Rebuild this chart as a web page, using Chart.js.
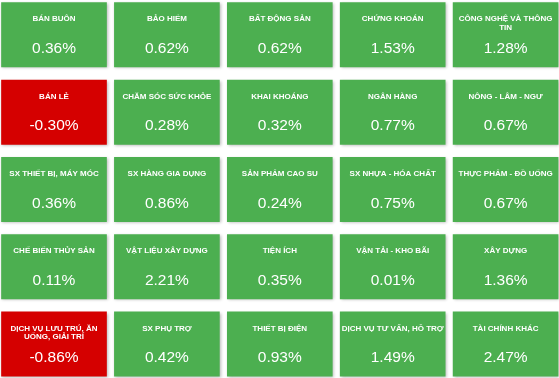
<!DOCTYPE html>
<html>
<head>
<meta charset="utf-8">
<script src="https://cdn.jsdelivr.net/npm/chart.js@4"></script>
<style>
  html, body { margin: 0; padding: 0; background: #ffffff; }
  #wrap { width: 559px; height: 378px; position: relative; }
</style>
</head>
<body>
<div id="wrap"><canvas id="c"></canvas></div>
<script>
const sectors = [
  "BÁN BUÔN", "BẢO HIỂM", "BẤT ĐỘNG SẢN", "CHỨNG KHOÁN", "CÔNG NGHỆ VÀ THÔNG TIN",
  "BÁN LẺ", "CHĂM SÓC SỨC KHỎE", "KHAI KHOÁNG", "NGÂN HÀNG", "NÔNG - LÂM - NGƯ",
  "SX THIẾT BỊ, MÁY MÓC", "SX HÀNG GIA DỤNG", "SẢN PHẨM CAO SU", "SX NHỰA - HÓA CHẤT", "THỰC PHẨM - ĐỒ UỐNG",
  "CHẾ BIẾN THỦY SẢN", "VẬT LIỆU XÂY DỰNG", "TIỆN ÍCH", "VẬN TẢI - KHO BÃI", "XÂY DỰNG",
  "DỊCH VỤ LƯU TRÚ, ĂN UỐNG, GIẢI TRÍ", "SX PHỤ TRỢ", "THIẾT BỊ ĐIỆN", "DỊCH VỤ TƯ VẤN, HỖ TRỢ", "TÀI CHÍNH KHÁC"
];
const changes = [
  0.36, 0.62, 0.62, 1.53, 1.28,
  -0.30, 0.28, 0.32, 0.77, 0.67,
  0.36, 0.86, 0.24, 0.75, 0.67,
  0.11, 2.21, 0.35, 0.01, 1.36,
  -0.86, 0.42, 0.93, 1.49, 2.47
];
const COLS = 5;

const GREEN = '#4caf50';
const RED = '#d50000';

// layout of the grid (pixel geometry expressed as scale ranges)
const colPitch = 112.9, firstColCenter = 54, tileW = 105;
const rowPitch = 77.3, firstRowTop = 2.7, tileH = 64.3;
const W = 559, H = 378;

const points = changes.map((v, i) => {
  const col = i % COLS, row = Math.floor(i / COLS);
  return { x: col, y: [row, row + tileH / rowPitch] };
});

const tileText = {
  id: 'tileText',
  beforeDatasetDraw(chart) {
    const ctx = chart.ctx;
    ctx.shadowColor = 'rgba(0,0,0,0.28)';
    ctx.shadowBlur = 3;
    ctx.shadowOffsetX = 1;
    ctx.shadowOffsetY = 1;
  },
  afterDatasetDraw(chart) {
    const ctx = chart.ctx;
    ctx.shadowColor = 'rgba(0,0,0,0)';
    ctx.shadowBlur = 0;
    ctx.shadowOffsetX = 0;
    ctx.shadowOffsetY = 0;
  },
  afterDatasetsDraw(chart) {
    const ctx = chart.ctx;
    const meta = chart.getDatasetMeta(0);
    ctx.save();
    ctx.fillStyle = '#ffffff';
    ctx.textAlign = 'center';
    ctx.textBaseline = 'middle';
    meta.data.forEach((el, i) => {
      const p = el.getProps(['x', 'y', 'base', 'width'], true);
      const top = Math.min(p.y, p.base);
      const maxW = p.width - 1;
      ctx.font = 'bold 8px "Liberation Sans", Arial, sans-serif';
      const words = sectors[i].split(' ');
      const lines = [];
      let cur = '';
      words.forEach(w => {
        const t = cur ? cur + ' ' + w : w;
        if (ctx.measureText(t).width > maxW && cur) { lines.push(cur); cur = w; }
        else cur = t;
      });
      if (cur) lines.push(cur);
      lines.forEach((ln, k) => ctx.fillText(ln, p.x, top + 16.5 + k * 8.5));
      ctx.font = '15.5px "Liberation Sans", Arial, sans-serif';
      ctx.fillText(changes[i].toFixed(2) + '%', p.x, top + 46);
    });
    ctx.restore();
  }
};

new Chart(document.getElementById('c'), {
  type: 'bar',
  data: {
    datasets: [{
      data: points,
      backgroundColor: changes.map(v => v < 0 ? RED : GREEN),
      borderWidth: 0,
      borderSkipped: false,
      barThickness: tileW
    }]
  },
  options: {
    responsive: true,
    maintainAspectRatio: false,
    animation: false,
    layout: { padding: 0 },
    plugins: { legend: { display: false }, tooltip: { enabled: false } },
    scales: {
      x: {
        type: 'linear', display: false, offset: false,
        min: -firstColCenter / colPitch,
        max: (W - firstColCenter) / colPitch
      },
      y: {
        type: 'linear', display: false, reverse: true, offset: false,
        min: -firstRowTop / rowPitch,
        max: (H - firstRowTop) / rowPitch
      }
    }
  },
  plugins: [tileText]
});
</script>
</body>
</html>
